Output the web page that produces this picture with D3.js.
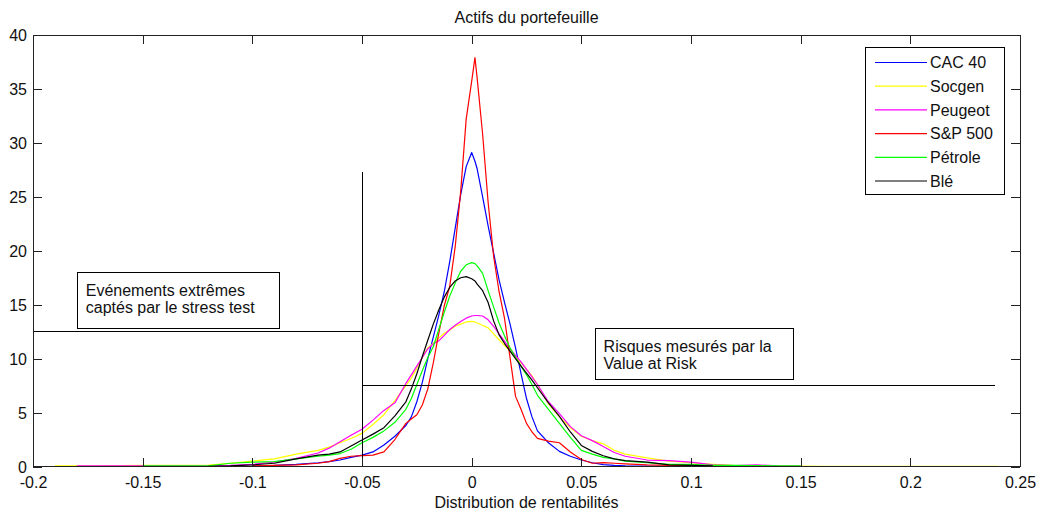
<!DOCTYPE html>
<html>
<head>
<meta charset="utf-8">
<script src="https://cdn.jsdelivr.net/npm/d3@7"></script>
<style>
  html, body { margin: 0; padding: 0; background: #fff; }
  svg { display: block; }
  text { font-family: "Liberation Sans", Arial, sans-serif; fill: #111; }
</style>
</head>
<body>
<svg id="chart" width="1040" height="514"></svg>
<script>
// ---------- DATA ----------
const title = "Actifs du portefeuille";
const xLabel = "Distribution de rentabilités";

const xTicks = [-0.2, -0.15, -0.1, -0.05, 0, 0.05, 0.1, 0.15, 0.2, 0.25];
const xTickLabels = ["-0.2", "-0.15", "-0.1", "-0.05", "0", "0.05", "0.1", "0.15", "0.2", "0.25"];
const yTicks = [0, 5, 10, 15, 20, 25, 30, 35, 40];
const yTickLabels = ["0", "5", "10", "15", "20", "25", "30", "35", "40"];

const seriesNames = ["CAC 40", "Socgen", "Peugeot", "S&P 500", "Pétrole", "Blé"];
const seriesColors = ["#0000ff", "#ffff00", "#ff00ff", "#ff0000", "#00ff00", "#000000"];

// shared return grid
const returnsGrid = [
  -0.19, -0.18, -0.17, -0.16, -0.15, -0.14, -0.13, -0.12, -0.11, -0.1,
  -0.09, -0.08, -0.07, -0.065, -0.06, -0.055, -0.05, -0.045, -0.04, -0.035,
  -0.03, -0.0275, -0.025, -0.0225, -0.02, -0.0175, -0.015, -0.0125, -0.01, -0.0075,
  -0.005, -0.0025, 0, 0.0015, 0.0025, 0.005, 0.0075, 0.01, 0.0125, 0.015,
  0.0175, 0.02, 0.0225, 0.025, 0.0275, 0.03, 0.035, 0.04, 0.045, 0.05,
  0.055, 0.06, 0.065, 0.07, 0.08, 0.09, 0.1, 0.11, 0.12, 0.13,
  0.14, 0.15, 0.16, 0.18, 0.2, 0.22, 0.24
];

const cac40 = [
  null, null, null, null, null, null, null, null, null, 0.05,
  0.1, 0.2, 0.35, 0.45, 0.6, 0.85, 1.06, 1.35, 2.0, 2.8,
  3.8, 4.6, 6.0, 7.8, 10.0, 12.0, 14.0, 16.2, 19.0, 22.1,
  25.2, 27.8, 29.1, 28.3, 27.6, 25.0, 22.3, 19.8, 17.3, 15.2,
  13.2, 11.0, 8.6, 6.3, 4.6, 3.3, 2.2, 1.4, 0.95, 0.6,
  0.35, 0.18, 0.1, 0.05, 0.03, 0.02, 0.02, null, null, null,
  null, null, null, null, null, null, null
];

const socgen = [
  0.05, 0.05, 0.05, 0.08, 0.1, 0.1, 0.1, 0.12, 0.3, 0.5,
  0.7, 1.15, 1.5, 1.8, 2.2, 2.6, 3.07, 3.9, 4.8, 6.1,
  7.5, 8.2, 9.1, 10.1, 11.0, 11.4, 11.9, 12.35, 12.65, 13.0,
  13.2, 13.4, 13.45, 13.4, 13.3, 13.1, 12.85, 12.3, 11.75, 11.2,
  10.7, 10.15, 9.6, 9.0, 8.4, 7.6, 5.8, 4.6, 3.6, 2.8,
  2.4, 2.1, 1.5, 1.15, 0.8, 0.5, 0.35, 0.2, 0.08, 0.05,
  0.04, 0.03, 0.02, 0.02, 0.02, 0.02, 0.02
];

const peugeot = [
  null, 0.05, 0.05, 0.05, 0.05, 0.05, 0.05, 0.05, 0.1, 0.2,
  0.4, 0.75, 1.25, 1.7, 2.3, 2.9, 3.45, 4.3, 5.2, 5.9,
  7.7, 8.5, 9.3, 10.1, 10.9, 11.35, 11.65, 12.15, 12.7, 13.1,
  13.45, 13.75, 13.95, 14.0, 14.0, 13.95, 13.6, 13.0, 12.3, 11.6,
  10.9, 10.3, 9.7, 9.0, 8.3, 7.6, 6.0, 4.9, 3.7, 2.85,
  2.4, 1.85, 1.3, 0.95, 0.6, 0.55, 0.4, 0.15, 0.08, 0.15,
  0.05, 0.03, null, null, null, null, null
];

const sp500 = [
  null, null, null, null, null, null, null, null, null, 0.05,
  0.1, 0.15, 0.3, 0.45, 0.75, 0.95, 1.0, 1.05, 1.35, 2.5,
  4.0, 4.4, 4.8, 5.7, 7.2, 9.6, 12.35, 14.9, 16.7, 20.4,
  25.5, 32.2, 35.7, 37.9, 36.0, 30.8, 24.5, 19.5, 16.2, 13.7,
  10.1, 6.5, 5.3, 4.0, 3.2, 2.6, 2.35, 2.2, 1.35, 0.65,
  0.3, 0.35, 0.3, 0.25, 0.15, 0.1, 0.05, null, null, null,
  null, null, null, null, null, null, null
];

const petrole = [
  null, null, null, null, 0.05, 0.05, 0.05, 0.05, 0.3, 0.4,
  0.45, 0.7, 0.95, 1.05, 1.2, 1.6, 2.2, 2.7, 3.3, 4.1,
  5.3, 6.3, 7.6, 8.9, 10.1, 11.1, 12.7, 14.3, 15.8, 17.0,
  18.1, 18.7, 18.9, 18.8, 18.6, 17.9, 16.3, 14.8, 13.3, 12.1,
  11.0, 10.1, 9.3, 8.5, 7.6, 6.6, 5.3, 4.0, 2.7, 1.5,
  1.15, 0.85, 0.7, 0.5, 0.35, 0.2, 0.2, 0.1, 0.1, 0.08,
  0.05, 0.05, null, null, null, null, null
];

const ble = [
  null, null, null, null, null, null, null, 0.02, 0.05, 0.15,
  0.3, 0.7, 1.05, 1.15, 1.35, 1.9, 2.45, 3.0, 3.6, 4.7,
  6.0, 7.2, 8.6, 10.2, 11.7, 13.2, 14.5, 15.7, 16.6, 17.2,
  17.5, 17.6, 17.4, 17.2, 16.9, 16.3, 15.2, 13.5, 12.2, 11.4,
  10.7, 10.0, 9.3, 8.65, 8.0, 7.3, 5.9, 4.65, 3.2, 1.95,
  1.4, 1.0, 0.7, 0.55, 0.4, 0.15, 0.1, 0.05, null, null,
  null, null, null, null, null, null, null
];

const seriesValues = [cac40, socgen, peugeot, sp500, petrole, ble];

// annotation geometry (data units)
const stressLineX = -0.05, stressLineTop = 27.3;
const stressLevel = 12.5;          // horizontal line, left part
const varLevel = 7.5, varEnd = 0.2385; // horizontal line, right part
const stressBox = { x0: -0.1796, x1: -0.0874, y0: 12.8, y1: 18.0,
  lines: ["Evénements extrêmes", "captés par le stress test"] };
const varBox = { x0: 0.0565, x1: 0.1466, y0: 8.05, y1: 12.83,
  lines: ["Risques mesurés par la", "Value at Risk"] };

// ---------- CHART ----------
const svg = d3.select("#chart");
svg.append("rect").attr("width", 1040).attr("height", 514).attr("fill", "#fff");

const L = 33, R = 1020, T = 35, B = 466.5;
const x = d3.scaleLinear().domain([-0.2, 0.25]).range([L, R]);
const y = d3.scaleLinear().domain([0, 40]).range([B, T]);

// curves
const line = d3.line()
  .defined(d => d[1] != null)
  .x(d => x(d[0]))
  .y(d => y(d[1]));

const plot = svg.append("g");
seriesValues.forEach((vals, i) => {
  const pts = returnsGrid.map((xv, j) => [xv, vals[j]]);
  plot.append("path")
    .attr("d", line(pts))
    .attr("fill", "none")
    .attr("stroke", seriesColors[i])
    .attr("stroke-width", 1.2)
    .attr("stroke-linejoin", "round");
});

// annotation lines
const ann = svg.append("g").attr("stroke", "#000").attr("stroke-width", 1).attr("shape-rendering", "crispEdges");
ann.append("line").attr("x1", x(stressLineX)).attr("x2", x(stressLineX)).attr("y1", y(stressLineTop)).attr("y2", y(0));
ann.append("line").attr("x1", x(-0.2)).attr("x2", x(stressLineX)).attr("y1", y(stressLevel)).attr("y2", y(stressLevel));
ann.append("line").attr("x1", x(stressLineX)).attr("x2", x(varEnd)).attr("y1", y(varLevel)).attr("y2", y(varLevel));

function drawBox(b) {
  const g = svg.append("g");
  g.append("rect")
    .attr("x", x(b.x0)).attr("y", y(b.y1))
    .attr("width", x(b.x1) - x(b.x0)).attr("height", y(b.y0) - y(b.y1))
    .attr("fill", "#fff").attr("stroke", "#000").attr("stroke-width", 1)
    .attr("shape-rendering", "crispEdges");
  b.lines.forEach((t, k) => {
    g.append("text")
      .attr("x", x(b.x0) + 8)
      .attr("y", y(b.y1) + 24 + k * 17)
      .attr("font-size", 16)
      .text(t);
  });
}
drawBox(stressBox);
drawBox(varBox);

// axes
const tick = 9;
const gx = svg.append("g").attr("transform", `translate(0,${B})`)
  .call(d3.axisBottom(x).tickValues(xTicks).tickSizeInner(-tick).tickSizeOuter(0)
    .tickFormat((d, i) => xTickLabels[i]));
gx.selectAll("text").attr("y", 21).attr("dy", null).attr("font-size", 16);

svg.append("g").attr("transform", `translate(0,${T})`)
  .call(d3.axisTop(x).tickValues(xTicks).tickSizeInner(-tick).tickSizeOuter(0).tickFormat(""));

const gy = svg.append("g").attr("transform", `translate(${L},0)`)
  .call(d3.axisLeft(y).tickValues(yTicks).tickSizeInner(-tick).tickSizeOuter(0)
    .tickFormat((d, i) => yTickLabels[i]));
gy.selectAll("text").attr("x", -6).attr("dy", "0.36em").attr("font-size", 16);

svg.append("g").attr("transform", `translate(${R},0)`)
  .call(d3.axisRight(y).tickValues(yTicks).tickSizeInner(-tick).tickSizeOuter(0).tickFormat(""));

svg.selectAll(".domain").remove();
svg.selectAll(".tick line").attr("stroke", "#222").attr("shape-rendering", "crispEdges");
svg.selectAll(".tick text").attr("fill", "#111").attr("font-family", "Liberation Sans, Arial, sans-serif");

svg.append("rect")
  .attr("x", L).attr("y", T).attr("width", R - L).attr("height", B - T)
  .attr("fill", "none").attr("stroke", "#222").attr("stroke-width", 1)
  .attr("shape-rendering", "crispEdges");

// title & x label
svg.append("text").attr("x", (L + R) / 2).attr("y", 23).attr("text-anchor", "middle")
  .attr("font-size", 16).text(title);
svg.append("text").attr("x", (L + R) / 2).attr("y", 508).attr("text-anchor", "middle")
  .attr("font-size", 16).text(xLabel);

// legend
const lg = svg.append("g");
const lx0 = 865, ly0 = 47.5, lw = 139, lh = 146.5;
lg.append("rect").attr("x", lx0).attr("y", ly0).attr("width", lw).attr("height", lh)
  .attr("fill", "#fff").attr("stroke", "#000").attr("stroke-width", 1).attr("shape-rendering", "crispEdges");
seriesNames.forEach((name, i) => {
  const ry = 62.5 + i * 23.7;
  lg.append("line").attr("x1", 875).attr("x2", 927).attr("y1", ry).attr("y2", ry)
    .attr("stroke", seriesColors[i]).attr("stroke-width", 1.2);
  lg.append("text").attr("x", 930).attr("y", ry + 5.8).attr("font-size", 16).text(name);
});
</script>
</body>
</html>
